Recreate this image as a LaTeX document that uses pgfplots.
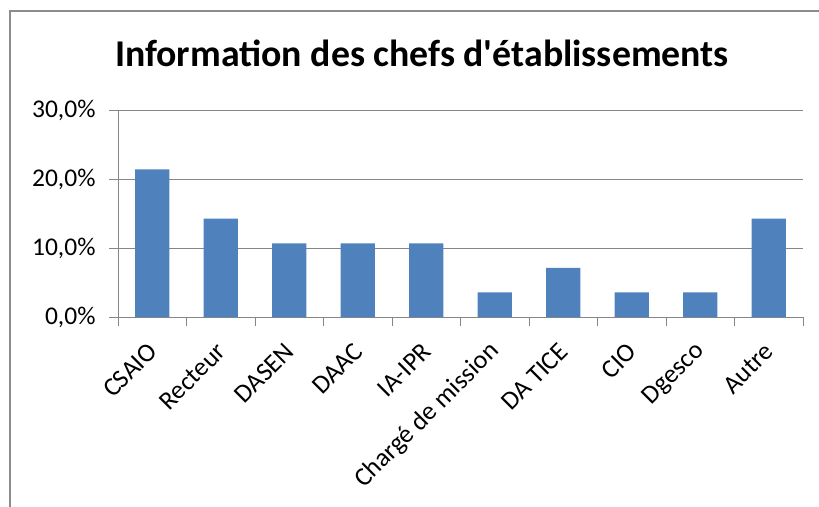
\documentclass[border=0pt]{standalone}
\usepackage{fontspec}
\setmainfont{Carlito}
\newfontfamily\titlefont{Carlito}
\usepackage{pgfplots}
\pgfplotsset{compat=1.18}
\definecolor{barblue}{HTML}{4F81BD}
\definecolor{gridgray}{HTML}{868686}
\definecolor{framegray}{HTML}{8C8C8C}
\begin{document}
\begin{tikzpicture}[x=1pt,y=1pt]
\useasboundingbox (0,0) rectangle (819,506);
\draw[framegray, line width=2.2pt] (10,-2) -- (10,495) -- (821,495);
\node[anchor=base, inner sep=0pt, font=\fontsize{37.8}{38}\titlefont\bfseries] at (422,439) {Information des chefs d'établissements};
\begin{axis}[
 at={(118pt,189pt)}, anchor=south west, scale only axis, width=685pt, height=206.5pt,
 xmin=-0.5, xmax=9.5, ymin=0, ymax=30,
 axis x line*=bottom, axis y line*=left,
 axis line style={gridgray, line width=1pt, -},
 ytick={0,10,20,30}, yticklabels={{0,0\%},{10,0\%},{20,0\%},{30,0\%}},
 ymajorgrids, grid style={gridgray, line width=1pt},
 xtick={0,...,9},
 xticklabels={CSAIO,Recteur,DASEN,DAAC,IA-IPR,Chargé de mission,DA TICE,CIO,Dgesco,Autre},
 minor xtick={-0.5,0.5,...,9.5},
 tick align=outside, major tick length=9pt, minor tick length=9pt,
 major x tick style={draw=none},
 minor x tick style={gridgray, line width=1pt},
 y tick style={gridgray, line width=1pt},
 xticklabel style={xshift=3pt, rotate=45, anchor=east, font=\fontsize{26}{26}\selectfont},
 xticklabel shift=19pt,
 yticklabel style={font=\fontsize{25.5}{25.5}\selectfont},
 yticklabel shift=10pt,
]
\addplot[ybar, fill=barblue, draw=none, bar width=0.5] coordinates {
 (0,21.43) (1,14.29) (2,10.71) (3,10.71) (4,10.71) (5,3.57) (6,7.14) (7,3.57) (8,3.57) (9,14.29)};
\end{axis}
\end{tikzpicture}
\end{document}
